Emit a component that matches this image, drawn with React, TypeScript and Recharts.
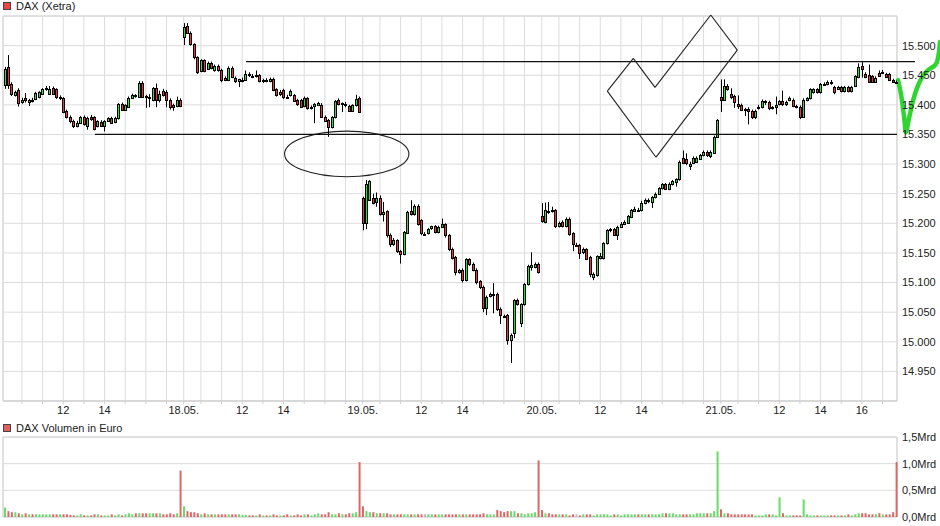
import React from 'react';
import {
  ComposedChart,
  Bar,
  XAxis,
  YAxis,
  CartesianGrid,
  ReferenceLine,
  ReferenceArea,
  Cell,
} from 'recharts';

// ---------- categories / ticks ----------
const DAY_LABELS = ['17.05.', '18.05.', '19.05.', '20.05.', '21.05.'];
const GRID_HOURS = [10, 11, 12, 13, 14, 15, 16, 17];
const LABELED_HOURS = [[12, 14], [12, 14], [12, 14], [12, 14], [12, 14, 16]];
const SLOTS_PER_DAY = 52; // 10-minute candles per trading day
const FIRST_HOUR_SLOT = 5; // slot of the 10:00 grid line
const PRICE_TICKS = [14950, 15000, 15050, 15100, 15150, 15200, 15250, 15300, 15350, 15400, 15450, 15500];
const PRICE_DOMAIN = [14900, 15550];
const VOLUME_TICKS = [0, 0.5, 1, 1.5];
const X_DOMAIN = [-0.5, 259.2];

// ---------- series: [open, high, low, close] ----------
const ohlc17: number[][] = [
  [15433, 15464, 15427, 15461], [15464, 15484, 15427, 15433], [15436, 15438, 15415, 15418], [15417, 15424, 15414, 15422],
  [15425, 15428, 15397, 15403], [15405, 15412, 15402, 15409], [15411, 15420, 15404, 15409], [15404, 15410, 15398, 15408],
  [15409, 15412, 15404, 15407], [15410, 15422, 15408, 15420], [15413, 15423, 15411, 15421], [15419, 15428, 15417, 15426],
  [15427, 15432, 15424, 15428], [15419, 15432, 15417, 15426], [15428, 15431, 15417, 15419], [15426, 15428, 15410, 15414],
  [15412, 15416, 15408, 15413], [15411, 15413, 15386, 15388], [15389, 15392, 15377, 15380], [15379, 15382, 15369, 15372],
  [15372, 15375, 15361, 15364], [15364, 15373, 15362, 15370], [15370, 15381, 15368, 15379], [15379, 15382, 15365, 15368],
  [15364, 15380, 15358, 15377], [15380, 15383, 15373, 15376], [15379, 15381, 15357, 15360], [15364, 15374, 15362, 15372],
  [15371, 15374, 15363, 15365], [15365, 15374, 15355, 15372], [15373, 15379, 15371, 15377], [15377, 15380, 15368, 15370],
  [15371, 15380, 15369, 15377], [15377, 15403, 15375, 15401], [15401, 15404, 15390, 15392], [15392, 15401, 15390, 15399],
  [15397, 15414, 15395, 15412], [15412, 15419, 15410, 15417], [15416, 15418, 15412, 15415], [15414, 15440, 15412, 15437],
  [15437, 15440, 15412, 15414], [15415, 15417, 15395, 15413], [15411, 15418, 15396, 15414], [15409, 15430, 15406, 15429],
  [15429, 15436, 15396, 15408], [15408, 15424, 15404, 15419], [15424, 15427, 15414, 15417], [15422, 15425, 15396, 15409],
  [15409, 15411, 15392, 15396], [15399, 15402, 15390, 15396], [15398, 15414, 15396, 15409], [15409, 15411, 15396, 15398],
];
const ohlc18: number[][] = [
  [15515, 15538, 15501, 15531], [15533, 15538, 15520, 15522], [15522, 15524, 15500, 15502], [15502, 15504, 15477, 15480],
  [15480, 15482, 15452, 15456], [15457, 15477, 15455, 15475], [15475, 15477, 15455, 15457], [15461, 15473, 15459, 15471],
  [15471, 15473, 15460, 15462], [15458, 15468, 15456, 15466], [15466, 15468, 15456, 15458], [15459, 15461, 15438, 15442],
  [15446, 15448, 15440, 15442], [15442, 15465, 15440, 15463], [15463, 15465, 15445, 15447], [15446, 15448, 15437, 15440],
  [15441, 15444, 15430, 15443], [15440, 15446, 15438, 15442], [15442, 15458, 15440, 15452], [15452, 15455, 15447, 15450],
  [15449, 15452, 15445, 15448], [15448, 15458, 15446, 15450], [15450, 15452, 15438, 15440], [15440, 15444, 15437, 15442],
  [15442, 15445, 15438, 15441], [15440, 15446, 15438, 15444], [15443, 15446, 15423, 15425], [15426, 15428, 15414, 15417],
  [15418, 15425, 15415, 15422], [15425, 15427, 15410, 15413], [15414, 15417, 15410, 15412], [15416, 15426, 15414, 15424],
  [15416, 15418, 15405, 15407], [15408, 15410, 15398, 15402], [15408, 15410, 15395, 15397], [15398, 15414, 15396, 15411],
  [15411, 15413, 15392, 15394], [15394, 15399, 15392, 15397], [15398, 15403, 15369, 15401], [15400, 15405, 15398, 15403],
  [15399, 15403, 15378, 15380], [15380, 15382, 15371, 15373], [15374, 15376, 15346, 15362], [15363, 15381, 15360, 15379],
  [15379, 15408, 15377, 15406], [15408, 15411, 15399, 15401], [15402, 15404, 15388, 15403], [15402, 15405, 15396, 15399],
  [15398, 15400, 15388, 15390], [15390, 15401, 15388, 15399], [15399, 15417, 15397, 15410], [15412, 15414, 15387, 15388],
];
const ohlc19: number[][] = [
  [15242, 15245, 15188, 15201], [15201, 15273, 15190, 15266], [15240, 15273, 15238, 15271], [15243, 15250, 15232, 15235],
  [15236, 15252, 15228, 15243], [15243, 15247, 15213, 15216], [15216, 15236, 15203, 15219], [15220, 15222, 15176, 15181],
  [15181, 15183, 15160, 15165], [15165, 15175, 15162, 15172], [15171, 15173, 15150, 15153], [15153, 15155, 15132, 15148],
  [15148, 15187, 15146, 15185], [15184, 15221, 15182, 15219], [15220, 15239, 15213, 15215], [15215, 15232, 15213, 15230],
  [15230, 15232, 15196, 15198], [15205, 15207, 15180, 15183], [15182, 15185, 15179, 15182], [15183, 15192, 15181, 15190],
  [15192, 15196, 15189, 15195], [15195, 15197, 15183, 15185], [15185, 15196, 15183, 15194], [15194, 15208, 15192, 15198],
  [15198, 15200, 15176, 15180], [15180, 15182, 15153, 15157], [15157, 15159, 15139, 15142], [15143, 15145, 15112, 15118],
  [15118, 15123, 15115, 15121], [15122, 15124, 15100, 15104], [15104, 15141, 15102, 15139], [15139, 15141, 15128, 15131],
  [15132, 15134, 15119, 15122], [15122, 15124, 15097, 15101], [15102, 15104, 15089, 15092], [15093, 15095, 15050, 15057],
  [15057, 15078, 15045, 15076], [15077, 15083, 15075, 15081], [15079, 15099, 15048, 15081], [15081, 15083, 15052, 15056],
  [15056, 15058, 15030, 15045], [15044, 15046, 15040, 15043], [15045, 15047, 14995, 15003], [15003, 15014, 14964, 15012],
  [15014, 15072, 15006, 15070], [15071, 15073, 15061, 15063], [15032, 15065, 15025, 15063], [15063, 15099, 15061, 15097],
  [15097, 15130, 15095, 15128], [15127, 15151, 15120, 15129], [15127, 15134, 15124, 15132], [15132, 15134, 15115, 15117],
];
const ohlc20: number[][] = [
  [15212, 15234, 15201, 15204], [15202, 15235, 15200, 15223], [15221, 15236, 15216, 15219], [15223, 15228, 15218, 15220],
  [15222, 15224, 15192, 15195], [15196, 15203, 15193, 15201], [15202, 15205, 15193, 15195], [15195, 15210, 15193, 15208],
  [15208, 15210, 15179, 15182], [15183, 15185, 15153, 15165], [15164, 15167, 15160, 15164], [15163, 15165, 15140, 15150],
  [15152, 15159, 15148, 15157], [15156, 15158, 15138, 15140], [15143, 15145, 15109, 15115], [15110, 15117, 15104, 15115],
  [15112, 15146, 15110, 15144], [15142, 15150, 15139, 15145], [15141, 15168, 15139, 15166], [15166, 15190, 15164, 15188],
  [15188, 15192, 15185, 15190], [15190, 15192, 15179, 15181], [15180, 15196, 15172, 15194], [15194, 15202, 15192, 15199],
  [15199, 15205, 15197, 15203], [15201, 15214, 15199, 15212], [15211, 15224, 15209, 15222], [15221, 15228, 15219, 15225],
  [15223, 15226, 15219, 15221], [15222, 15238, 15220, 15235], [15234, 15242, 15232, 15240], [15240, 15242, 15234, 15237],
  [15236, 15246, 15226, 15244], [15244, 15252, 15242, 15250], [15250, 15261, 15248, 15259], [15259, 15268, 15257, 15266],
  [15266, 15268, 15256, 15258], [15258, 15269, 15256, 15267], [15266, 15273, 15264, 15271], [15270, 15276, 15262, 15274],
  [15274, 15306, 15272, 15304], [15310, 15323, 15300, 15302], [15309, 15318, 15298, 15301], [15296, 15304, 15290, 15300],
  [15302, 15313, 15300, 15311], [15304, 15313, 15302, 15311], [15309, 15317, 15307, 15315], [15315, 15323, 15313, 15321],
  [15321, 15323, 15312, 15315], [15314, 15323, 15310, 15321], [15319, 15348, 15317, 15346], [15346, 15376, 15344, 15374],
];
const ohlc21: number[][] = [
  [15414, 15443, 15388, 15409], [15409, 15443, 15407, 15432], [15432, 15435, 15424, 15426], [15419, 15428, 15410, 15413],
  [15415, 15417, 15395, 15405], [15402, 15416, 15393, 15398], [15400, 15402, 15390, 15392], [15393, 15395, 15381, 15391],
  [15393, 15396, 15367, 15390], [15390, 15392, 15376, 15379], [15379, 15392, 15376, 15390], [15395, 15400, 15392, 15397],
  [15396, 15409, 15394, 15407], [15404, 15408, 15400, 15406], [15405, 15407, 15391, 15394], [15394, 15398, 15392, 15396],
  [15397, 15414, 15384, 15399], [15401, 15408, 15399, 15406], [15407, 15424, 15398, 15401], [15401, 15407, 15398, 15405],
  [15408, 15414, 15406, 15412], [15409, 15411, 15396, 15398], [15398, 15400, 15394, 15396], [15397, 15399, 15376, 15379],
  [15380, 15411, 15378, 15409], [15408, 15413, 15406, 15411], [15411, 15428, 15409, 15426], [15421, 15428, 15419, 15426],
  [15426, 15428, 15419, 15421], [15421, 15437, 15419, 15435], [15434, 15438, 15432, 15436], [15435, 15441, 15433, 15439],
  [15439, 15442, 15434, 15437], [15430, 15432, 15418, 15421], [15427, 15432, 15425, 15430], [15430, 15432, 15421, 15423],
  [15423, 15432, 15421, 15430], [15430, 15432, 15421, 15423], [15423, 15432, 15421, 15430], [15432, 15450, 15430, 15448],
  [15447, 15470, 15445, 15464], [15466, 15472, 15446, 15461], [15452, 15455, 15445, 15447], [15450, 15468, 15437, 15439],
  [15448, 15450, 15437, 15439], [15439, 15448, 15437, 15446], [15454, 15458, 15447, 15449], [15455, 15459, 15453, 15456],
  [15452, 15454, 15445, 15447], [15452, 15454, 15440, 15442], [15442, 15444, 15437, 15439], [15439, 15441, 15436, 15437],
];

// ---------- volumes in Mrd Euro ----------
const vol17 = [
  0.18, 0.11, 0.09, 0.09, 0.07, 0.05, 0.07, 0.05, 0.05, 0.05, 0.05, 0.05, 0.05, 0.05, 0.05, 0.05, 0.05, 0.05, 0.05, 0.04,
  0.03, 0.03, 0.05, 0.03, 0.03, 0.03, 0.05, 0.05, 0.03, 0.03, 0.03, 0.05, 0.03, 0.05, 0.03, 0.05, 0.07, 0.05, 0.07, 0.07,
  0.07, 0.07, 0.07, 0.07, 0.07, 0.07, 0.05, 0.05, 0.07, 0.05, 0.07, 0.87,
];
const vol18 = [
  0.2, 0.11, 0.09, 0.09, 0.07, 0.05, 0.07, 0.05, 0.05, 0.05, 0.05, 0.05, 0.05, 0.05, 0.05, 0.05, 0.05, 0.04, 0.04, 0.03,
  0.03, 0.03, 0.05, 0.03, 0.03, 0.03, 0.05, 0.03, 0.03, 0.03, 0.05, 0.03, 0.03, 0.05, 0.03, 0.05, 0.05, 0.03, 0.05, 0.07,
  0.05, 0.05, 0.09, 0.05, 0.05, 0.07, 0.05, 0.05, 0.07, 0.07, 0.09, 1.03,
];
const vol19 = [
  0.2, 0.11, 0.09, 0.09, 0.07, 0.07, 0.07, 0.07, 0.05, 0.05, 0.05, 0.05, 0.05, 0.05, 0.05, 0.05, 0.05, 0.05, 0.05, 0.05,
  0.05, 0.05, 0.05, 0.05, 0.05, 0.05, 0.05, 0.05, 0.05, 0.05, 0.05, 0.05, 0.05, 0.05, 0.05, 0.07, 0.05, 0.05, 0.05, 0.13,
  0.11, 0.09, 0.11, 0.11, 0.11, 0.07, 0.07, 0.05, 0.07, 0.07, 0.09, 1.06,
];
const vol20 = [
  0.13, 0.07, 0.07, 0.05, 0.05, 0.05, 0.05, 0.05, 0.03, 0.05, 0.05, 0.03, 0.05, 0.05, 0.05, 0.03, 0.05, 0.05, 0.05, 0.05,
  0.03, 0.05, 0.05, 0.03, 0.05, 0.05, 0.05, 0.05, 0.05, 0.05, 0.05, 0.05, 0.05, 0.05, 0.05, 0.07, 0.07, 0.07, 0.07, 0.05,
  0.05, 0.05, 0.05, 0.05, 0.05, 0.07, 0.07, 0.07, 0.07, 0.07, 0.11, 1.23,
];
const vol21 = [
  0.145, 0.07, 0.07, 0.05, 0.05, 0.05, 0.05, 0.05, 0.05, 0.05, 0.03, 0.03, 0.03, 0.05, 0.05, 0.05, 0.03, 0.37, 0.07, 0.03,
  0.03, 0.03, 0.03, 0.03, 0.33, 0.05, 0.03, 0.03, 0.03, 0.03, 0.03, 0.03, 0.03, 0.03, 0.03, 0.03, 0.03, 0.05, 0.03, 0.05,
  0.07, 0.07, 0.07, 0.05, 0.05, 0.05, 0.07, 0.05, 0.05, 0.05, 0.09, 1.03,
];

// ---------- annotations (data coordinates: slot, price) ----------
const SUPPORT_LINE = { x1: 26.2, x2: 259.2, price: 15350 };
const RESIST_LINE = { x1: 70.1, x2: 264.4, price: 15473 };
const ELLIPSE_BOX = { x1: 81.3, x2: 117.4, y1: 15278.6, y2: 15355.7 };
const CHECK_X = [175.05, 182.6, 188.9, 205.1, 212.8, 189.2];
const CHECK_P = [15423.2, 15478.5, 15429.5, 15551.7, 15492.5, 15311.6];
const SWOOSH_X = [259.5, 260.4, 261.3, 261.8, 262.7, 263.9, 265.0, 266.5, 268.2, 270.0, 270.8, 271.4, 271.7];
const SWOOSH_P = [15441.8, 15416.4, 15377.6, 15353.9, 15377.6, 15408, 15428.3, 15446.9, 15458.7, 15465.5, 15472.2, 15489.1, 15506];

// ---------- styles ----------
const FONT = '"Liberation Sans", Arial, Helvetica, sans-serif';
const GREEN = '#33dd33';
const RED = '#ee3333';
const VOL_GREEN = '#66dd66';
const VOL_RED = '#e06666';
const VOL_GRAY = '#bbbbbb';
const GRID = '#dcdcdc';

const OHLC_DAYS = [ohlc17, ohlc18, ohlc19, ohlc20, ohlc21];
const VOL_DAYS = [vol17, vol18, vol19, vol20, vol21];

const rows = OHLC_DAYS.flatMap((day, d) =>
  day.map(([o, h, l, c], k) => ({
    x: d * SLOTS_PER_DAY + k,
    o,
    h,
    l,
    c,
    range: [l, h],
    vol: VOL_DAYS[d][k],
    up: c > o ? 1 : c < o ? -1 : 0,
  }))
);

const xTicks: number[] = [];
const xTickLabels: Record<string, string> = {};
DAY_LABELS.forEach((label, d) => {
  if (d > 0) {
    xTicks.push(d * SLOTS_PER_DAY);
    xTickLabels[String(d * SLOTS_PER_DAY)] = label;
  }
  GRID_HOURS.forEach((hr) => {
    const v = d * SLOTS_PER_DAY + FIRST_HOUR_SLOT + 6 * (hr - 10);
    xTicks.push(v);
    if (LABELED_HOURS[d].includes(hr)) xTickLabels[String(v)] = String(hr);
  });
});

const CandleShape = (props: any) => {
  const { x, y, width, height, payload } = props;
  if (x == null || y == null || !payload) return null;
  const { o, h, l, c, up } = payload;
  const top = Math.min(y, y + height);
  const hgt = Math.abs(height);
  const k = h > l ? hgt / (h - l) : 0;
  const py = (v: number) => top + (h - v) * k;
  const cx = Math.round(x + width / 2);
  const bt = Math.round(py(Math.max(o, c)));
  const bb = Math.round(py(Math.min(o, c)));
  const fill = up >= 0 ? GREEN : RED;
  return (
    <g>
      <line x1={cx + 0.5} x2={cx + 0.5} y1={top} y2={top + hgt} stroke="#000" strokeWidth={1} />
      <rect x={cx - 0.5} y={bt + 0.5} width={2} height={Math.max(bb - bt, 1)} fill={fill} stroke="#000" strokeWidth={1} />
    </g>
  );
};

const EllipseShape = (p: any) => (
  <ellipse
    cx={p.x + p.width / 2}
    cy={p.y + p.height / 2}
    rx={p.width / 2}
    ry={p.height / 2}
    fill="none"
    stroke="#222"
    strokeWidth={1.1}
  />
);

const swooshBox = {
  x1: Math.min(...SWOOSH_X),
  x2: Math.max(...SWOOSH_X),
  y1: Math.min(...SWOOSH_P),
  y2: Math.max(...SWOOSH_P),
};

const SwooshShape = (p: any) => {
  const { x, y, width, height } = p;
  const pts = SWOOSH_X.map((u, i) => [
    x + ((u - swooshBox.x1) / (swooshBox.x2 - swooshBox.x1)) * width,
    y + ((swooshBox.y2 - SWOOSH_P[i]) / (swooshBox.y2 - swooshBox.y1)) * height,
  ]);
  let d = `M${pts[0][0]},${pts[0][1]}`;
  for (let i = 0; i < pts.length - 1; i++) {
    const p0 = pts[Math.max(i - 1, 0)];
    const p1 = pts[i];
    const p2 = pts[i + 1];
    const p3 = pts[Math.min(i + 2, pts.length - 1)];
    const c1 = [p1[0] + (p2[0] - p0[0]) / 6, p1[1] + (p2[1] - p0[1]) / 6];
    const c2 = [p2[0] - (p3[0] - p1[0]) / 6, p2[1] - (p3[1] - p1[1]) / 6];
    d += ` C${c1[0]},${c1[1]} ${c2[0]},${c2[1]} ${p2[0]},${p2[1]}`;
  }
  return <path d={d} fill="none" stroke="#2fd62f" strokeWidth={4.5} strokeLinecap="round" strokeLinejoin="round" />;
};

const checkSegments = CHECK_X.map((u, i) => {
  const j = (i + 1) % CHECK_X.length;
  return [
    { x: u, y: CHECK_P[i] },
    { x: CHECK_X[j], y: CHECK_P[j] },
  ];
});

const tickStyle = { fontSize: 11, fill: '#222', fontFamily: FONT };

const Legend = ({ top, label, color }: { top: number; label: string; color: string }) => (
  <div style={{ position: 'absolute', left: 3, top, height: 12, display: 'flex', alignItems: 'center', fontFamily: FONT, fontSize: 11, color: '#222', whiteSpace: 'nowrap' }}>
    <span style={{ display: 'inline-block', width: 6, height: 6, background: color, border: '1px solid #444', marginRight: 5 }} />
    <span>{label}</span>
  </div>
);

export default function App() {
  return (
    <div style={{ position: 'absolute', left: 0, top: 0, width: 940, height: 526, background: '#fff', overflow: 'hidden' }}>
      <Legend top={0} label="DAX (Xetra)" color="#ee4444" />
      <div style={{ position: 'absolute', left: 0, top: 0 }}>
        <ComposedChart width={940} height={420} data={rows} margin={{ top: 16, right: 0, bottom: 0, left: 3 }}>
          <CartesianGrid stroke={GRID} strokeWidth={1} />
          <XAxis
            dataKey="x"
            type="number"
            domain={X_DOMAIN}
            ticks={xTicks}
            interval={0}
            height={19}
            tickFormatter={(v: number) => xTickLabels[String(v)] || ''}
            tick={tickStyle}
            tickSize={3}
            tickMargin={2}
            axisLine={{ stroke: '#cfcfcf' }}
            tickLine={{ stroke: '#cfcfcf' }}
          />
          <YAxis
            orientation="right"
            width={43}
            domain={PRICE_DOMAIN}
            ticks={PRICE_TICKS}
            interval={0}
            tickFormatter={(v: number) => (v / 1000).toFixed(3)}
            tick={tickStyle}
            tickSize={0}
            tickMargin={5}
            axisLine={false}
            tickLine={false}
          />
          <ReferenceArea x1={X_DOMAIN[0]} x2={X_DOMAIN[1]} y1={PRICE_DOMAIN[0]} y2={PRICE_DOMAIN[1]} fill="none" stroke="#d4d4d4" ifOverflow="visible" />
          <Bar dataKey="range" barSize={3} shape={CandleShape} isAnimationActive={false} />
          <ReferenceLine
            segment={[{ x: SUPPORT_LINE.x1, y: SUPPORT_LINE.price }, { x: SUPPORT_LINE.x2, y: SUPPORT_LINE.price }]}
            stroke="#111"
            strokeWidth={1.2}
            ifOverflow="visible"
          />
          <ReferenceLine
            segment={[{ x: RESIST_LINE.x1, y: RESIST_LINE.price }, { x: RESIST_LINE.x2, y: RESIST_LINE.price }]}
            stroke="#111"
            strokeWidth={1.2}
            ifOverflow="visible"
          />
          <ReferenceArea
            x1={ELLIPSE_BOX.x1}
            x2={ELLIPSE_BOX.x2}
            y1={ELLIPSE_BOX.y1}
            y2={ELLIPSE_BOX.y2}
            ifOverflow="visible"
            shape={EllipseShape}
          />
          {checkSegments.map((seg, i) => (
            <ReferenceLine key={`chk${i}`} segment={seg} stroke="#222" strokeWidth={1.1} ifOverflow="visible" />
          ))}
          <ReferenceArea
            x1={swooshBox.x1}
            x2={swooshBox.x2}
            y1={swooshBox.y1}
            y2={swooshBox.y2}
            ifOverflow="visible"
            shape={SwooshShape}
          />
        </ComposedChart>
      </div>
      <Legend top={422} label="DAX Volumen in Euro" color="#e06060" />
      <div style={{ position: 'absolute', left: 0, top: 430 }}>
        <ComposedChart width={940} height={96} data={rows} margin={{ top: 7, right: 0, bottom: 0, left: 3 }}>
          <CartesianGrid stroke={GRID} strokeWidth={1} />
          <XAxis
            dataKey="x"
            type="number"
            domain={X_DOMAIN}
            ticks={xTicks}
            interval={0}
            height={9}
            tick={false}
            axisLine={false}
            tickLine={false}
          />
          <YAxis
            orientation="right"
            width={43}
            domain={[0, 1.5]}
            ticks={VOLUME_TICKS}
            interval={0}
            tickFormatter={(v: number) => v.toFixed(1).replace('.', ',') + 'Mrd'}
            tick={tickStyle}
            tickSize={0}
            tickMargin={5}
            axisLine={false}
            tickLine={false}
          />
          <ReferenceArea x1={X_DOMAIN[0]} x2={X_DOMAIN[1]} y1={0} y2={1.5} fill="none" stroke="#d4d4d4" ifOverflow="visible" />
          <Bar dataKey="vol" barSize={2} isAnimationActive={false}>
            {rows.map((r, i) => (
              <Cell key={i} fill={r.up > 0 ? VOL_GREEN : r.up < 0 ? VOL_RED : VOL_GRAY} />
            ))}
          </Bar>
        </ComposedChart>
      </div>
    </div>
  );
}
